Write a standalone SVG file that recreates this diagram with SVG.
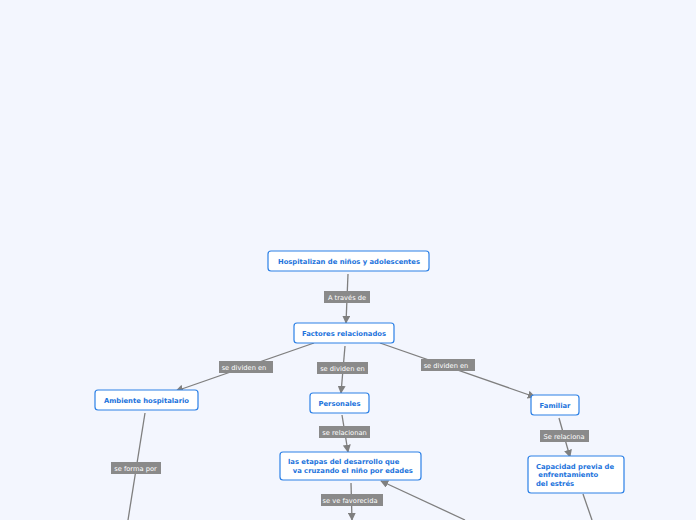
<svg xmlns="http://www.w3.org/2000/svg" width="696" height="520" viewBox="0 0 696 520">
<defs>
<marker id="arr" viewBox="0 0 10 10" refX="9" refY="5" markerWidth="8" markerHeight="8" markerUnits="userSpaceOnUse" orient="auto">
<path d="M0,0 L10,5 L0,10 z" fill="#7f7f7f"/>
</marker>
<style>
.node rect{fill:#ffffff;stroke:#2c80e6;stroke-width:1.2}
.node text{font-family:"DejaVu Sans",Verdana,sans-serif;font-size:6.8px;font-weight:bold;fill:#2273dc}
.conn line{stroke:#7f7f7f;stroke-width:1.3}
.lbl rect{fill:#8a8a8a}
.lbl text{font-family:"DejaVu Sans",Verdana,sans-serif;font-size:6.7px;fill:#ffffff;text-anchor:middle}
</style>
</defs>
<rect width="696" height="520" fill="#f3f6fe"/>
<g id="connectors" class="conn">
<line x1="348" y1="274" x2="346" y2="323" marker-end="url(#arr)"/>
<line x1="314" y1="343" x2="176" y2="391" marker-end="url(#arr)"/>
<line x1="345" y1="346" x2="341" y2="393" marker-end="url(#arr)"/>
<line x1="380" y1="343" x2="535" y2="397" marker-end="url(#arr)"/>
<line x1="342" y1="415" x2="348" y2="452" marker-end="url(#arr)"/>
<line x1="559" y1="418" x2="570" y2="457" marker-end="url(#arr)"/>
<line x1="145" y1="413" x2="128" y2="520"/>
<line x1="351" y1="483" x2="352" y2="520" marker-end="url(#arr)"/>
<line x1="465" y1="520" x2="381" y2="481" marker-end="url(#arr)"/>
<line x1="583" y1="494" x2="592" y2="520"/>
</g>
<g id="labels" class="lbl">
<g><rect x="324" y="291" width="46" height="12"/><text x="347" y="299.5">A través de</text></g>
<g><rect x="219" y="361" width="54" height="12"/><text x="244" y="369.5">se dividen en</text></g>
<g><rect x="317" y="362" width="51" height="12"/><text x="342.5" y="370.5">se dividen en</text></g>
<g><rect x="421" y="359" width="54" height="12"/><text x="446" y="367.5">se dividen en</text></g>
<g><rect x="319" y="426" width="51" height="12"/><text x="344.5" y="434.5">se relacionan</text></g>
<g><rect x="540" y="430" width="49" height="12"/><text x="564" y="438.5">Se relaciona</text></g>
<g><rect x="111" y="462" width="50" height="12"/><text x="135.5" y="470.5">se forma por</text></g>
<g><rect x="321" y="494" width="62" height="12"/><text x="350" y="502.5">se ve favorecida</text></g>
</g>
<g id="n-hosp" class="node"><rect x="268" y="251" width="161" height="20" rx="3"/><text x="349" y="263.5" text-anchor="middle">Hospitalizan de niños y adolescentes</text></g>
<g id="n-factores" class="node"><rect x="294" y="323" width="100" height="20" rx="3"/><text x="344" y="335.5" text-anchor="middle">Factores relacionados</text></g>
<g id="n-ambiente" class="node"><rect x="95" y="390" width="103" height="20" rx="3"/><text x="146.5" y="402.5" text-anchor="middle">Ambiente hospitalario</text></g>
<g id="n-personales" class="node"><rect x="310" y="393" width="59" height="20" rx="3"/><text x="339.5" y="405.5" text-anchor="middle">Personales</text></g>
<g id="n-familiar" class="node"><rect x="531" y="395" width="48" height="20" rx="3"/><text x="555" y="407.5" text-anchor="middle">Familiar</text></g>
<g id="n-etapas" class="node"><rect x="280" y="452" width="141" height="28" rx="3"/><text x="288" y="464">las etapas del desarrollo que</text><text x="288" y="472.5" xml:space="preserve">  va cruzando el niño por edades</text></g>
<g id="n-capacidad" class="node"><rect x="528" y="456" width="96" height="37" rx="3"/><text x="536" y="468.5">Capacidad previa de</text><text x="536" y="477" xml:space="preserve"> enfrentamiento</text><text x="536" y="485.5">del estrés</text></g>
</svg>
